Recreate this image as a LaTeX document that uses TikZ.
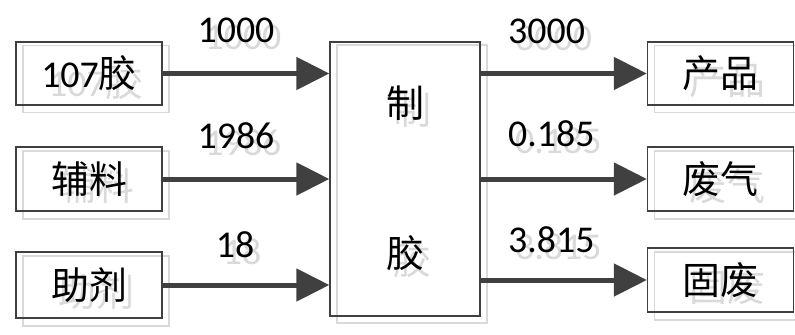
\documentclass[tikz,border=0pt]{standalone}
\usepackage{fontspec}
\setmainfont{Carlito}
\newfontfamily\cjk{Noto Sans CJK SC}
\usetikzlibrary{arrows.meta}
\definecolor{ink}{HTML}{404040}
\definecolor{ghost}{HTML}{D9D9D9}
\begin{document}
\begin{tikzpicture}[x=1bp,y=-1bp,
  every node/.style={inner sep=0pt, font=\fontsize{38}{40}\selectfont},
  box/.style={draw=ink, line width=1.3bp, minimum width=146bp},
  ghostbox/.style={draw=ghost, line width=1.3bp, minimum width=146bp},
  label/.style={text=black},
  ghosttext/.style={text=ghost},
  flow/.style={draw=ink, line width=5bp, -{Triangle[length=33bp,width=32bp]}},
]
\useasboundingbox (0,0) rectangle (795,334);

% --- shadow layer (light grey copies, offset down-right) ---
\node[ghostbox, minimum height=67bp] (sin1) at (96,79) {};
\node[ghostbox, minimum height=68bp] (sin2) at (96,185) {};
\node[ghostbox, minimum height=70bp] (sin3) at (96,291) {};
\node[ghostbox, minimum width=150bp, minimum height=278bp] (sproc) at (412,184) {};
\node[ghostbox, minimum height=67bp] (sout1) at (727.5,79) {};
\node[ghostbox, minimum height=68bp] (sout2) at (727.5,185) {};
\node[ghostbox, minimum height=68bp] (sout3) at (727.5,286) {};

\node[ghosttext] (tin1) at (96,82) {107{\cjk 胶}};
\node[ghosttext] (tin2) at (96,186) {\cjk 辅料};
\node[ghosttext] (tin3) at (96,292) {\cjk 助剂};
\node[ghosttext] (tz1) at (412,110) {\cjk 制};
\node[ghosttext] (tz2) at (412,260) {\cjk 胶};
\node[ghosttext] (tout1) at (727.5,80) {\cjk 产品};
\node[ghosttext] (tout2) at (727.5,186) {\cjk 废气};
\node[ghosttext] (tout3) at (727.5,287) {\cjk 固废};
\node[ghosttext] (tq1) at (243,37) {1000};
\node[ghosttext] (tq2) at (243,143) {1986};
\node[ghosttext] (tq3) at (242,252) {18};
\node[ghosttext, anchor=west] (tq4) at (515,38) {3000};
\node[ghosttext, anchor=west] (tq5) at (515,141) {0.185};
\node[ghosttext, anchor=west] (tq6) at (515,247) {3.815};

% --- input boxes ---
\node[box, minimum height=63bp] (in1) at (89,73.5) {107{\cjk 胶}};
\node[box, minimum height=64bp] (in2) at (89,179) {\cjk 辅料};
\node[box, minimum height=66bp] (in3) at (89,285) {\cjk 助剂};

% --- process box ---
\node[box, minimum width=150bp, minimum height=274bp] (proc) at (405,179) {};
\node (z1) at (405,103) {\cjk 制};
\node (z2) at (405,253) {\cjk 胶};

% --- output boxes ---
\node[box, minimum height=63bp] (out1) at (720.5,73.5) {\cjk 产品};
\node[box, minimum height=64bp] (out2) at (720.5,179) {\cjk 废气};
\node[box, minimum height=64bp] (out3) at (720.5,280) {\cjk 固废};

% --- flows ---
\draw[flow] (in1.east) -- (in1.east -| proc.west);
\draw[flow] (in2.east) -- (in2.east -| proc.west);
\draw[flow] (in3.east) -- (in3.east -| proc.west);
\draw[flow] (proc.east |- out1.west) -- (out1.west);
\draw[flow] (proc.east |- out2.west) -- (out2.west);
\draw[flow] (proc.east |- out3.west) -- (out3.west);

% --- quantities ---
\node[label] (q1) at (236,30) {1000};
\node[label] (q2) at (236,136) {1986};
\node[label] (q3) at (235,245) {18};
\node[label, anchor=west] (q4) at (508,31) {3000};
\node[label, anchor=west] (q5) at (508,134) {0.185};
\node[label, anchor=west] (q6) at (508,240) {3.815};
\end{tikzpicture}
\end{document}
